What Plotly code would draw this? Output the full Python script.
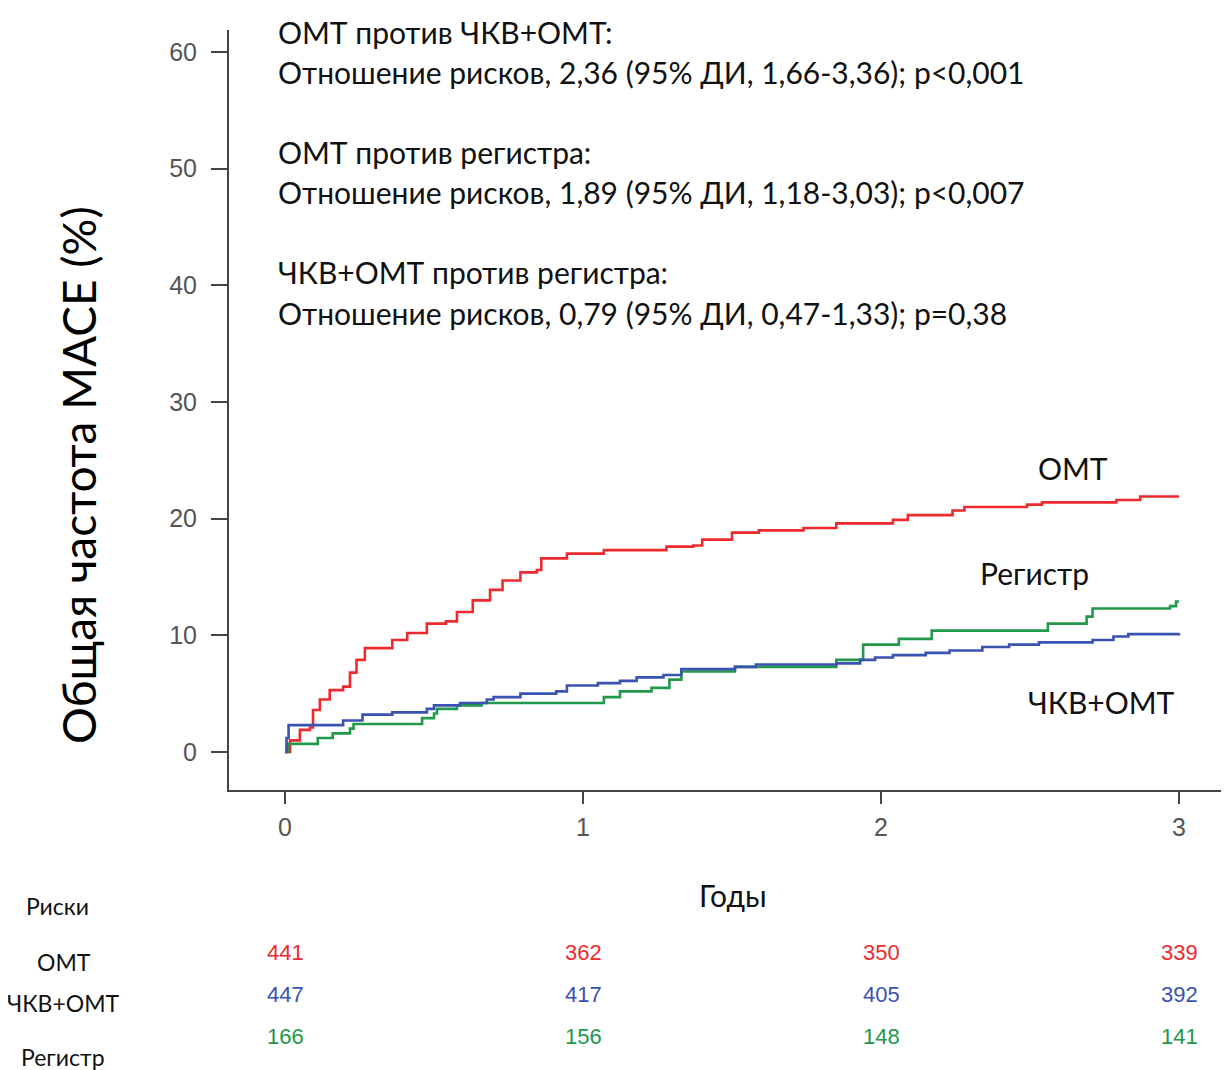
import plotly.graph_objects as go

# ---- data ----
omt_x = [0, 0.017, 0.05, 0.084, 0.094, 0.117, 0.15, 0.195, 0.218, 0.24, 0.268, 0.33, 0.36, 0.41,
         0.476, 0.54, 0.577, 0.63, 0.688, 0.73, 0.79, 0.845, 0.86, 0.946, 1.07, 1.28, 1.37, 1.40,
         1.50, 1.59, 1.74, 1.85, 2.04, 2.09, 2.24, 2.28, 2.49, 2.54, 2.79, 2.87, 3.0]
omt_y = [0, 1.0, 1.9, 2.1, 3.6, 4.5, 5.3, 5.6, 6.8, 7.9, 8.9, 8.9, 9.6, 10.2,
         11.0, 11.2, 12.0, 13.0, 13.9, 14.7, 15.4, 15.6, 16.6, 17.0, 17.3, 17.6, 17.7, 18.2,
         18.8, 19.0, 19.2, 19.6, 19.9, 20.3, 20.7, 21.0, 21.2, 21.4, 21.6, 21.9, 21.9]

pci_x = [0, 0.005, 0.012, 0.195, 0.26, 0.36, 0.476, 0.5, 0.587, 0.677, 0.70, 0.79, 0.91, 0.946,
         1.05, 1.124, 1.18, 1.27, 1.33, 1.51, 1.58, 1.85, 1.93, 1.98, 2.04, 2.15, 2.23, 2.34,
         2.43, 2.53, 2.71, 2.78, 2.83, 3.0]
pci_y = [0, 1.2, 2.3, 2.7, 3.2, 3.4, 3.7, 4.0, 4.2, 4.5, 4.7, 5.0, 5.2, 5.7,
         5.9, 6.1, 6.4, 6.6, 7.1, 7.3, 7.5, 7.6, 7.9, 8.1, 8.3, 8.5, 8.7, 9.0,
         9.2, 9.4, 9.6, 9.9, 10.1, 10.2]

reg_x = [0, 0.01, 0.11, 0.16, 0.218, 0.23, 0.46, 0.50, 0.51, 0.577, 0.66, 1.07, 1.124, 1.23,
         1.29, 1.33, 1.51, 1.85, 1.94, 2.06, 2.17, 2.56, 2.69, 2.71, 2.97, 2.99, 3.0]
reg_y = [0, 0.7, 1.2, 1.6, 2.0, 2.4, 2.9, 3.3, 3.7, 4.0, 4.2, 4.7, 5.2, 5.5,
         6.2, 6.9, 7.3, 7.9, 9.2, 9.7, 10.4, 11.0, 11.6, 12.3, 12.5, 12.9, 12.9]

risk_years = [0, 1, 2, 3]
risk_omt = [441, 362, 350, 339]
risk_pci = [447, 417, 405, 392]
risk_reg = [166, 156, 148, 141]

y_ticks = [0, 10, 20, 30, 40, 50, 60]
x_ticks = [0, 1, 2, 3]

stats_lines = [
    "ОМТ против ЧКВ+ОМТ:",
    "Отношение рисков, 2,36 (95% ДИ, 1,66-3,36); p<0,001",
    "ОМТ против регистра:",
    "Отношение рисков, 1,89 (95% ДИ, 1,18-3,03); p<0,007",
    "ЧКВ+ОМТ против регистра:",
    "Отношение рисков, 0,79 (95% ДИ, 0,47-1,33); p=0,38",
]

RED = "#ee2a2e"
BLUE = "#3a52b0"
GREEN = "#21984a"
FONT = "Lato"

# page body has an 8px margin, so the figure is sized/positioned to compensate
OFF = 8
W, H = 1229 - OFF, 1070 - OFF
PL, PR, PT, PB = 229, 1229, 30, 790   # plot area in page pixels
L, T = PL - OFF, PT - OFF
R = W - (PR - OFF)
B = H - (PB - OFF)
PW = PR - PL
PH = PB - PT


def px(x):
    return (x - PL) / PW


def py(y):
    return (PB - y) / PH


fig = go.Figure()
for xs, ys, c, name in [(omt_x, omt_y, RED, "ОМТ"), (reg_x, reg_y, GREEN, "Регистр"),
                        (pci_x, pci_y, BLUE, "ЧКВ+ОМТ")]:
    fig.add_trace(go.Scatter(x=xs, y=ys, mode="lines", line=dict(color=c, width=2.6, shape="hv"),
                             name=name, showlegend=False))

ann = []
stat_y = [32, 72, 152, 192, 272, 313]
for t, yy in zip(stats_lines, stat_y):
    ann.append(dict(text=t, x=px(276), y=py(yy), xref="paper", yref="paper", xanchor="left",
                    yanchor="middle", showarrow=False, font=dict(family=FONT, size=30, color="#111")))

# curve labels
for t, xx, yy in [("ОМТ", 1073, 468), ("Регистр", 1034, 573), ("ЧКВ+ОМТ", 1101, 702)]:
    ann.append(dict(text=t, x=px(xx), y=py(yy), xref="paper", yref="paper", xanchor="center",
                    yanchor="middle", showarrow=False, font=dict(family=FONT, size=30, color="#111")))

# axis titles
ann.append(dict(text="Годы", x=px(733), y=py(895), xref="paper", yref="paper", showarrow=False,
                xanchor="center", yanchor="middle", font=dict(family=FONT, size=30, color="#111")))
ann.append(dict(text="Общая частота MACE (%)", x=px(78), y=py(475), xref="paper", yref="paper",
                showarrow=False, textangle=-90, xanchor="center", yanchor="middle",
                font=dict(family=FONT, size=46, color="#000")))

# risk table
for t, xx, yy in [("Риски", 57, 906), ("ОМТ", 64, 962), ("ЧКВ+ОМТ", 63, 1003), ("Регистр", 63, 1057)]:
    ann.append(dict(text=t, x=px(xx), y=py(yy), xref="paper", yref="paper", xanchor="center",
                    yanchor="middle", showarrow=False, font=dict(family=FONT, size=23, color="#111")))

for vals, c, yy in [(risk_omt, RED, 952), (risk_pci, BLUE, 994), (risk_reg, GREEN, 1036)]:
    for xv, v in zip(risk_years, vals):
        ann.append(dict(text=str(v), x=xv, y=py(yy), xref="x", yref="paper", xanchor="center",
                        yanchor="middle", showarrow=False,
                        font=dict(family="Liberation Sans", size=22, color=c)))

fig.update_layout(
    width=W, height=H,
    margin=dict(l=L, r=R, t=T, b=B, pad=0),
    plot_bgcolor="white", paper_bgcolor="white",
    annotations=ann,
    xaxis=dict(range=[(PL - 285) / 298, (PR - 285) / 298], tickvals=x_ticks, showgrid=False,
               zeroline=False, showline=True, linecolor="#444", linewidth=2, ticks="outside",
               ticklen=12, tickwidth=2, tickcolor="#444", ticklabelstandoff=2,
               tickfont=dict(family="Liberation Sans", size=25, color="#555")),
    yaxis=dict(range=[(752 - PB) / 11.667, (752 - PT) / 11.667], tickvals=y_ticks, showgrid=False,
               zeroline=False, showline=True, linecolor="#444", linewidth=2, ticks="outside",
               ticklen=16, tickwidth=2, tickcolor="#444", ticklabelstandoff=9,
               tickfont=dict(family="Liberation Sans", size=25, color="#555")),
)

fig.write_html("out.html")
